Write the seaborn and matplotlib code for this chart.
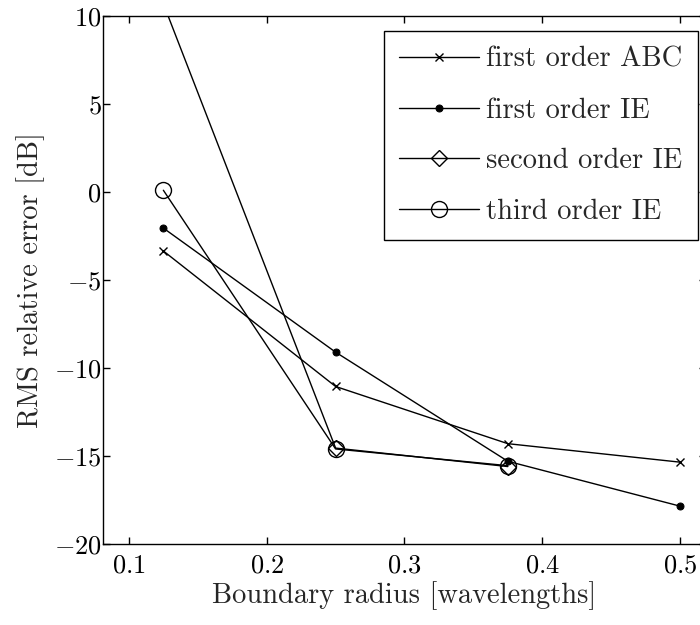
import matplotlib
matplotlib.use("Agg")
import matplotlib.pyplot as plt
import seaborn as sns
import pandas as pd

# ---- data ----
radius = [0.125, 0.25, 0.375, 0.5]
abc_first = [-3.35, -11.05, -14.3, -15.35]
ie_first = [-2.05, -9.1, -15.3, -17.85]
ie_second = [10.7, -14.55, -15.6]
ie_third = [0.1, -14.6, -15.55]
labels = ["first order ABC", "first order IE", "second order IE", "third order IE"]
xticks = [0.1, 0.2, 0.3, 0.4, 0.5]
yticks = [-20, -15, -10, -5, 0, 5, 10]

sns.set_style("ticks")
plt.rcParams["font.family"] = ["cmr10", "DejaVu Serif"]
plt.rcParams["mathtext.fontset"] = "cm"
plt.rcParams["axes.formatter.use_mathtext"] = True
plt.rcParams["axes.unicode_minus"] = True

fig = plt.figure(figsize=(7, 6.25), dpi=100)
ax = fig.add_axes([103 / 700, 81 / 625, 603 / 700, 528 / 625])

series = [
    (radius, abc_first, dict(marker="x", markersize=6, markeredgewidth=1.0,
                             markerfacecolor="black", markeredgecolor="black")),
    (radius, ie_first, dict(marker="o", markersize=5, markerfacecolor="black",
                            markeredgecolor="black")),
    (radius[:3], ie_second, dict(marker="D", markersize=8.5, markeredgewidth=1.0,
                                 markerfacecolor="none", markeredgecolor="black")),
    (radius[:3], ie_third, dict(marker="o", markersize=11.5, markeredgewidth=1.0,
                                markerfacecolor="none", markeredgecolor="black")),
]
for (xs, ys, mk), lab in zip(series, labels):
    df = pd.DataFrame({"x": xs, "y": ys})
    sns.lineplot(data=df, x="x", y="y", ax=ax, color="black", linewidth=1.0,
                 label=lab, sort=False, **mk)

ax.set_xlim(0.0812, 0.5188)
ax.set_ylim(-20, 10)
ax.set_xticks(xticks)
ax.set_yticks(yticks)
ax.set_xticklabels([f"${t:g}$" for t in xticks])
ax.set_yticklabels([f"${t:g}$" for t in yticks])

for s in ax.spines.values():
    s.set_visible(True)
    s.set_linewidth(1.0)
    s.set_color("black")
ax.tick_params(axis="both", which="both", direction="in", length=5, width=1.0,
               top=True, right=True, labelsize=19, colors="black")
ax.tick_params(axis="x", pad=7)
ax.tick_params(axis="y", pad=1)

ax.set_xlabel("Boundary radius [wavelengths]", fontsize=20.5, labelpad=3)
ax.set_ylabel("RMS relative error [dB]", fontsize=20.5, labelpad=6)

leg = ax.legend(loc="upper right", bbox_to_anchor=(698 / 700, 1 - 31 / 625),
                bbox_transform=fig.transFigure, fontsize=20.5, frameon=True,
                fancybox=False, edgecolor="black", framealpha=1,
                handlelength=2.8, handletextpad=0.25, labelspacing=0.85,
                borderpad=0.55, borderaxespad=0)
leg.get_frame().set_linewidth(1.0)

fig.savefig("out.png", dpi=100)
